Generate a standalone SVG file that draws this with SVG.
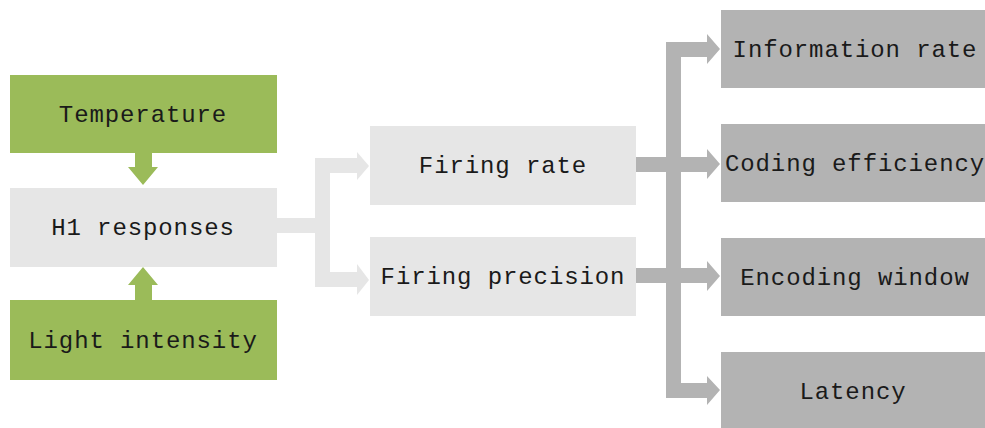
<svg xmlns="http://www.w3.org/2000/svg" width="985" height="428" viewBox="0 0 985 428">
<style>
.green{fill:#9BBB59}
.light{fill:#E6E6E6}
.dark{fill:#B3B3B3}
text{font-family:"Liberation Mono","Courier New",monospace;font-size:24px;letter-spacing:0.9px;fill:#1a1a1a;text-anchor:middle}
</style>
<rect width="985" height="428" fill="#ffffff"/>
<g id="connectors">
  <!-- green arrows -->
  <polygon class="green" points="135,153 152,153 152,167 158,167 143,185 128,167 135,167"/>
  <polygon class="green" points="135,300 152,300 152,285 158,285 143,267 128,285 135,285"/>
  <!-- light split from H1 -->
  <polygon class="light" points="277,218 315,218 315,158 357,158 357,152 369,166 357,180 357,173 330,173 330,272 357,272 357,264 369,280 357,295 357,287 315,287 315,233 277,233"/>
  <!-- dark split -->
  <rect class="dark" x="666" y="42" width="15" height="356"/>
  <rect class="dark" x="636" y="157" width="72" height="15"/>
  <rect class="dark" x="636" y="268" width="72" height="15"/>
  <polygon class="dark" points="681,42 707,42 707,34 720,49 707,64 707,57 681,57"/>
  <polygon class="dark" points="707,149 720,164 707,179"/>
  <polygon class="dark" points="707,261 720,276 707,291"/>
  <polygon class="dark" points="681,383 707,383 707,376 720,390 707,405 707,398 681,398"/>
</g>
<g id="temperature"><rect class="green" x="10" y="75" width="267" height="78"/><text x="143" y="122">Temperature</text></g>
<g id="h1"><rect class="light" x="10" y="188" width="267" height="79"/><text x="143" y="235">H1 responses</text></g>
<g id="light-intensity"><rect class="green" x="10" y="300" width="267" height="80"/><text x="143" y="348">Light intensity</text></g>
<g id="firing-rate"><rect class="light" x="370" y="126" width="266" height="79"/><text x="503" y="173">Firing rate</text></g>
<g id="firing-precision"><rect class="light" x="370" y="237" width="266" height="79"/><text x="503" y="284">Firing precision</text></g>
<g id="information-rate"><rect class="dark" x="721" y="10" width="264" height="78"/><text x="855" y="57">Information rate</text></g>
<g id="coding-efficiency"><rect class="dark" x="721" y="124" width="264" height="78"/><text x="855" y="171">Coding efficiency</text></g>
<g id="encoding-window"><rect class="dark" x="721" y="238" width="264" height="78"/><text x="855" y="285">Encoding window</text></g>
<g id="latency"><rect class="dark" x="721" y="352" width="264" height="76"/><text x="853" y="399">Latency</text></g>
</svg>
